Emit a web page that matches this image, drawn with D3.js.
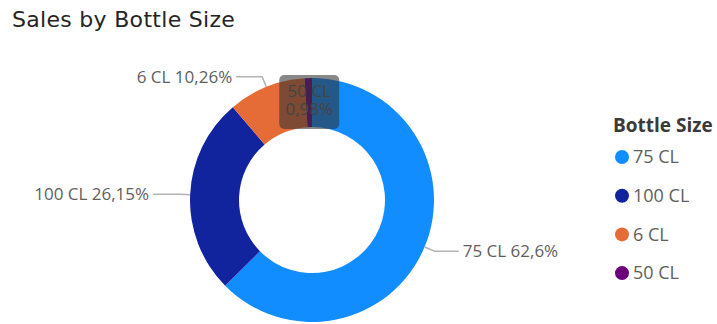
<!DOCTYPE html>
<html>
<head>
<meta charset="utf-8">
<script src="https://cdn.jsdelivr.net/npm/d3@7"></script>
<style>
  html, body { margin: 0; padding: 0; background: #fff; }
  svg { display: block; }
</style>
</head>
<body>
<svg id="chart" width="717" height="324"></svg>
<script>
// Share of sales per bottle size (percent)
const categories = ["75 CL", "100 CL", "6 CL", "50 CL"];
const shares = [62.6, 26.15, 10.26, 0.98];
const shareLabels = ["62,6%", "26,15%", "10,26%", "0,98%"];
const colors = ["#118DFF", "#12239E", "#E66C37", "#6B007B"];

const svg = d3.select("#chart");
const labelFont = "'Open Sans', 'Noto Sans', sans-serif";

// Title
svg.append("text")
  .attr("x", 12).attr("y", 27)
  .attr("font-family", "'DejaVu Sans', Roboto, sans-serif")
  .attr("font-size", 22)
  .attr("letter-spacing", 0.3)
  .attr("fill", "#252423")
  .text("Sales by Bottle Size");

// Donut
const cx = 312, cy = 200, outerR = 122, innerR = 73;
const pie = d3.pie().sort(null).value(d => d.value);
const data = categories.map((c, i) => ({ name: c, value: shares[i], label: shareLabels[i], color: colors[i] }));
const arcs = pie(data);
const arc = d3.arc().innerRadius(innerR).outerRadius(outerR);

const g = svg.append("g").attr("transform", `translate(${cx},${cy})`);
g.selectAll("path.slice")
  .data(arcs)
  .join("path")
  .attr("class", "slice")
  .attr("d", arc)
  .attr("fill", d => d.data.color);

// Point on a circle of radius r at the given pie angle (0 = top, clockwise)
const polar = (a, r) => [Math.sin(a) * r, -Math.cos(a) * r];

// Outside labels with leader lines (all but the smallest slice)
arcs.slice(0, 3).forEach(d => {
  const mid = (d.startAngle + d.endAngle) / 2;
  const p0 = polar(mid, outerR);
  const p1 = polar(mid, outerR + 11);
  const right = Math.sin(mid) > 0;
  const p2 = [p1[0] + (right ? 24 : -26), p1[1]];
  g.append("polyline")
    .attr("points", [p0, p1, p2].map(p => p.join(",")).join(" "))
    .attr("fill", "none")
    .attr("stroke", "#B3B3B3")
    .attr("stroke-width", 1.5);
  g.append("text")
    .attr("x", p2[0] + (right ? 4 : -4))
    .attr("y", p2[1])
    .attr("dy", "0.35em")
    .attr("text-anchor", right ? "start" : "end")
    .attr("font-family", labelFont)
    .attr("font-size", 17)
    .attr("fill", "#605E5C")
    .text(`${d.data.name} ${d.data.label}`);
});

// Smallest slice: label placed on the ring, under a highlight box
const small = arcs[3];
const sMid = (small.startAngle + small.endAngle) / 2;
const sp = polar(sMid, outerR);
const st = g.append("text")
  .attr("text-anchor", "middle")
  .attr("font-family", labelFont)
  .attr("font-size", 17)
  .attr("fill", "#605E5C");
st.append("tspan").attr("x", sp[0] + 1).attr("y", sp[1] + 19).text(small.data.name);
st.append("tspan").attr("x", sp[0] + 1).attr("y", sp[1] + 37).text(small.data.label);
g.append("rect")
  .attr("x", sp[0] - 29).attr("y", sp[1] - 3)
  .attr("width", 60).attr("height", 54)
  .attr("rx", 5)
  .attr("fill", "rgba(50,50,50,0.58)");

// Legend
const legend = svg.append("g").attr("transform", "translate(613,0)");
legend.append("text")
  .attr("x", 0).attr("y", 132)
  .attr("font-family", labelFont)
  .attr("font-weight", "bold")
  .attr("font-size", 19)
  .attr("fill", "#3b3a39")
  .text("Bottle Size");
const items = legend.selectAll("g.item")
  .data(data)
  .join("g")
  .attr("class", "item")
  .attr("transform", (d, i) => `translate(0,${157 + i * 38.7})`);
items.append("circle")
  .attr("cx", 9).attr("cy", 0).attr("r", 7)
  .attr("fill", d => d.color);
items.append("text")
  .attr("x", 20).attr("y", 0).attr("dy", "0.35em")
  .attr("font-family", labelFont)
  .attr("font-size", 18)
  .attr("fill", "#605E5C")
  .text(d => d.name);
</script>
</body>
</html>
